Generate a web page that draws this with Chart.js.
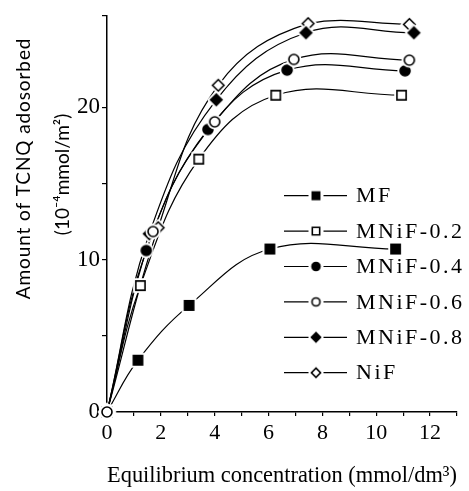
<!DOCTYPE html>
<html>
<head>
<meta charset="utf-8">
<script src="https://cdn.jsdelivr.net/npm/chart.js@4/dist/chart.umd.min.js"></script>
<style>
  html, body { margin: 0; padding: 0; background: #fff; }
  #wrap { width: 469px; height: 491px; }
</style>
</head>
<body>
<div id="wrap"><canvas id="c" width="469" height="491"></canvas></div>
<script>
// Adsorption isotherms of TCNQ on the ferrite samples
const seriesNames = ['MF', 'MNiF-0.2', 'MNiF-0.4', 'MNiF-0.6', 'MNiF-0.8', 'NiF'];

const mfX     = [0, 1.15, 3.05, 6.05, 10.72];
const mfY     = [0, 3.4, 7.0, 10.7, 10.7];
const mnif02X = [0, 1.24, 3.41, 6.27, 10.94];
const mnif02Y = [0, 8.3, 16.6, 20.8, 20.8];
const mnif04X = [0, 1.46, 3.75, 6.69, 11.07];
const mnif04Y = [0, 10.6, 18.55, 22.45, 22.4];
const mnif06X = [0, 1.71, 4.0, 6.94, 11.23];
const mnif06Y = [0, 11.85, 19.05, 23.15, 23.1];
const mnif08X = [0, 1.57, 4.06, 7.39, 11.4];
const mnif08Y = [0, 11.7, 20.5, 24.9, 24.9];
const nifX    = [0, 1.9, 4.13, 7.47, 11.23];
const nifY    = [0, 12.1, 21.45, 25.5, 25.45];

const xLabeledTicks = [0, 2, 4, 6, 8, 10, 12];
const yLabeledTicks = [0, 10, 20];

const xTitle = 'Equilibrium concentration (mmol/dm\u00B3)';
const yTitle = ['Amount of TCNQ adosorbed', '(10\u207B\u2074mmol/m\u00B2)'];

// marker shapes: [shape, filled]
const markerKinds = [
  ['square', true], ['square', false],
  ['circle', true], ['circle', false],
  ['diamond', true], ['diamond', false]
];

function shapePath(ctx, shape, cx, cy, r) {
  ctx.beginPath();
  if (shape === 'square') {
    ctx.rect(cx - r, cy - r, 2 * r, 2 * r);
  } else if (shape === 'circle') {
    ctx.arc(cx, cy, r, 0, Math.PI * 2);
  } else {
    const d = r * 1.3;
    ctx.moveTo(cx, cy - d); ctx.lineTo(cx + d, cy);
    ctx.lineTo(cx, cy + d); ctx.lineTo(cx - d, cy);
    ctx.closePath();
  }
}

// Builds a marker bitmap with a white halo so the curves stop short of it
function makeMarker(shape, filled, r, halo) {
  const size = Math.ceil((r * 1.3 + halo + 2) * 2);
  const cv = document.createElement('canvas');
  cv.width = size; cv.height = size;
  const g = cv.getContext('2d');
  const c = size / 2;
  if (halo > 0) {
    g.fillStyle = '#fff';
    shapePath(g, shape, c, c, r + halo);
    g.fill();
  }
  shapePath(g, shape, c, c, r);
  g.fillStyle = filled ? '#000' : '#fff';
  g.fill();
  g.lineWidth = 1.6;
  g.strokeStyle = '#000';
  g.stroke();
  return cv;
}

const markerRadius = s => s === 'circle' ? 5 : (s === 'square' ? 4.6 : 4.4);
const plotMarkers = markerKinds.map(([s, f]) => makeMarker(s, f, markerRadius(s), 2.5));
const legendMarkers = markerKinds.map(([s, f]) => makeMarker(s, f, markerRadius(s) * 0.8, 0));

const xs = [mfX, mnif02X, mnif04X, mnif06X, mnif08X, nifX];
const ys = [mfY, mnif02Y, mnif04Y, mnif06Y, mnif08Y, nifY];

const datasets = seriesNames.map((name, i) => ({
  label: name,
  data: xs[i].map((x, k) => ({ x: x, y: ys[i][k] })),
  borderColor: '#000',
  borderWidth: 1.2,
  backgroundColor: '#000',
  pointStyle: plotMarkers[i],
  pointRadius: 5,
  tension: 0.4,
  fill: false,
  clip: false
}));

// draw order of markers so the open circles sit on top at the origin
const markerOrder = [5, 4, 1, 0, 2, 3];

const markersOnTop = {
  id: 'markersOnTop',
  afterDatasetsDraw(chart) {
    const ctx = chart.ctx;
    markerOrder.forEach(i => {
      const meta = chart.getDatasetMeta(i);
      meta.data.forEach(pt => pt.draw(ctx, chart.chartArea));
    });
  }
};

// two-line rotated title of the value axis
const valueAxisTitle = {
  id: 'valueAxisTitle',
  afterDraw(chart) {
    const ctx = chart.ctx;
    const area = chart.chartArea;
    const cy = area.top + (area.bottom - area.top) * 0.385;
    ctx.save();
    ctx.fillStyle = '#000';
    ctx.font = '19px Lato';
    ctx.textAlign = 'center';
    ctx.textBaseline = 'alphabetic';
    ctx.translate(30, cy);
    ctx.rotate(-Math.PI / 2);
    ctx.letterSpacing = '0.9px';
    ctx.fillText(yTitle[0], 0, 0);
    ctx.letterSpacing = '0px';
    ctx.fillText(yTitle[1], -6, 39);
    ctx.restore();
  }
};

const insetLegend = {
  id: 'insetLegend',
  afterDraw(chart) {
    const ctx = chart.ctx;
    ctx.save();
    ctx.font = '22px "Liberation Serif"';
    ctx.letterSpacing = '2.5px';
    ctx.textBaseline = 'middle';
    ctx.fillStyle = '#000';
    ctx.strokeStyle = '#000';
    ctx.lineWidth = 1.2;
    const x0 = 284, x1 = 347, xm = 316, tx = 356;
    const y0 = 195.7, dy = 35.4;
    chart.data.datasets.forEach((ds, i) => {
      const y = y0 + i * dy;
      ctx.beginPath();
      ctx.moveTo(x0, y); ctx.lineTo(xm - 7.5, y);
      ctx.moveTo(xm + 7.5, y); ctx.lineTo(x1, y);
      ctx.stroke();
      const m = legendMarkers[i];
      ctx.drawImage(m, xm - m.width / 2, y - m.height / 2);
      ctx.fillText(ds.label, tx, y + 1);
    });
    ctx.restore();
  }
};

new Chart(document.getElementById('c'), {
  type: 'line',
  data: { datasets },
  options: {
    responsive: false,
    animation: false,
    layout: { padding: { top: 16, right: 12, left: 0, bottom: 0 } },
    plugins: { legend: { display: false }, tooltip: { enabled: false } },
    scales: {
      x: {
        type: 'linear',
        min: 0, max: 13,
        afterFit(s) { s.height = 79; },
        border: { display: true, color: '#000', width: 1.5 },
        grid: { display: true, drawOnChartArea: false, drawTicks: true, tickLength: 4, color: '#000', lineWidth: 1.2 },
        ticks: {
          stepSize: 1,
          autoSkip: false,
          maxRotation: 0,
          padding: 4,
          color: '#000',
          font: { family: '"Liberation Serif"', size: 22 },
          callback: v => xLabeledTicks.includes(v) ? String(v) : ''
        },
        title: {
          display: true,
          text: xTitle,
          color: '#000',
          font: { family: '"Liberation Serif"', size: 23 },
          padding: { top: 0, bottom: 1 }
        }
      },
      y: {
        type: 'linear',
        min: 0, max: 26,
        afterFit(s) { s.width = 107; },
        border: { display: true, color: '#000', width: 1.5 },
        grid: { display: true, drawOnChartArea: false, drawTicks: true, tickLength: 5, color: '#000', lineWidth: 1.2 },
        ticks: {
          stepSize: 5,
          autoSkip: false,
          padding: 2,
          color: '#000',
          font: { family: '"Liberation Serif"', size: 23 },
          callback: v => yLabeledTicks.includes(v) ? String(v) : ''
        },
        title: { display: false }
      }
    }
  },
  plugins: [markersOnTop, valueAxisTitle, insetLegend]
});
</script>
</body>
</html>
